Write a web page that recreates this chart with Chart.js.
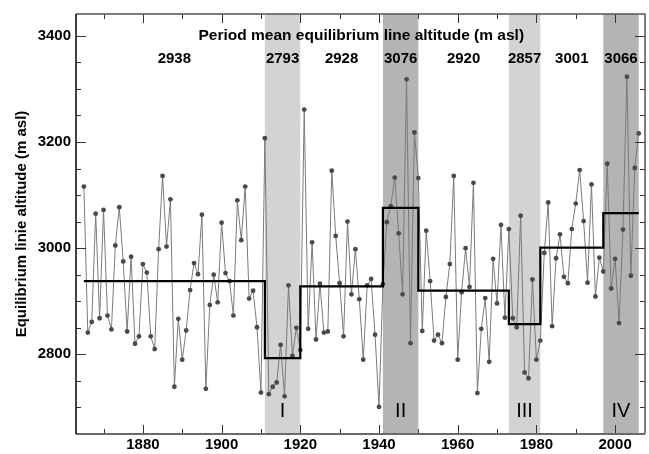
<!DOCTYPE html>
<html>
<head>
<meta charset="utf-8">
<script src="https://cdn.jsdelivr.net/npm/chart.js@4.4.1/dist/chart.umd.min.js"></script>
<style>
  html, body { margin: 0; padding: 0; background: #fff; }
  #wrap { width: 649px; height: 454px; }
</style>
</head>
<body>
<div id="wrap"><canvas id="ela-chart" width="649" height="454"></canvas></div>
<script>
// Yearly equilibrium line altitude (m asl), first value is 1865
const firstYear = 1865;
const elaValues = [
  3116, 2841, 2861, 3065, 2868, 3072, 2873, 2847, 3005, 3077,
  2975, 2843, 2984, 2820, 2834, 2970, 2954, 2834, 2810, 2998,
  3136, 3003, 3092, 2739, 2867, 2790, 2845, 2921, 2972, 2951,
  3063, 2735, 2893, 2950, 2898, 3048, 2953, 2938, 2873, 3090,
  3015, 3116, 2905, 2920, 2851, 2728, 3207,
  2725, 2739, 2747, 2818, 2721, 2930, 2797, 2850, 2808,
  3261, 2848, 3011, 2828, 2933, 2841, 2843, 3146, 3023, 2934,
  2834, 3050, 2913, 2998, 2904, 2790, 2930, 2942, 2837, 2701, 2932,
  3049, 3079, 3133, 3028, 2913, 3318, 2821, 3218, 3132,
  2844, 3033, 2938, 2826, 2837, 2821, 2908, 2970, 3136, 2790,
  2917, 3000, 2927, 3123, 2727, 2848, 2906, 2786, 2980, 2896,
  3044, 2869, 3036,
  2868, 2851, 3061, 2766, 2755, 2941, 2790, 2826,
  2991, 3086, 2853, 2981, 3026, 2946, 2934, 3036, 3084, 3147,
  3051, 2935, 3120, 2909, 2982, 2956,
  3159, 2924, 2980, 2859, 3035, 3323, 2948, 3151, 3216
];

// Period boundaries and period means
const periodBounds = [1865, 1911, 1920, 1941, 1950, 1973, 1981, 1997, 2006];
const periodMeans = [2938, 2793, 2928, 3076, 2920, 2857, 3001, 3066];

// Shaded periods
const bandStart = [1911, 1941, 1973, 1997];
const bandEnd = [1920, 1950, 1981, 2006];
const bandColor = ['#d3d3d3', '#b4b4b4', '#d3d3d3', '#b4b4b4'];
const bandLabel = ['I', 'II', 'III', 'IV'];

// Axis ticks
const xTicks = [1880, 1900, 1920, 1940, 1960, 1980, 2000];
const yTicks = [2800, 3000, 3200, 3400];

const FONT = "'Liberation Sans', Arial, Helvetica, sans-serif";

const yearlyPoints = elaValues.map((v, i) => ({ x: firstYear + i, y: v }));

const stepPoints = [];
for (let i = 0; i < periodMeans.length; i++) {
  stepPoints.push({ x: periodBounds[i], y: periodMeans[i] });
  stepPoints.push({ x: periodBounds[i + 1], y: periodMeans[i] });
}

// bands behind the data
const bandsPlugin = {
  id: 'bands',
  beforeDatasetsDraw(chart) {
    const { ctx, chartArea, scales } = chart;
    ctx.save();
    for (let i = 0; i < bandStart.length; i++) {
      const x1 = scales.x.getPixelForValue(bandStart[i]);
      const x2 = scales.x.getPixelForValue(bandEnd[i]);
      ctx.fillStyle = bandColor[i];
      ctx.fillRect(x1, chartArea.top, x2 - x1, chartArea.bottom - chartArea.top);
    }
    ctx.restore();
  }
};

// frame, inward ticks and text labels
const framePlugin = {
  id: 'frame',
  afterDraw(chart) {
    const { ctx, chartArea, scales } = chart;
    const { left, right, top, bottom } = chartArea;
    ctx.save();

    // inward ticks
    ctx.strokeStyle = '#333';
    ctx.lineWidth = 1;
    for (let yr = 1870; yr <= 2000; yr += 10) {
      const x = Math.round(scales.x.getPixelForValue(yr)) + 0.5;
      const len = yr % 20 === 0 ? 9 : 5;
      ctx.beginPath();
      ctx.moveTo(x, bottom); ctx.lineTo(x, bottom - len);
      ctx.moveTo(x, top); ctx.lineTo(x, top + len);
      ctx.stroke();
    }
    for (let v = 2700; v <= 3400; v += 50) {
      const y = Math.round(scales.y.getPixelForValue(v)) + 0.5;
      const len = v % 200 === 0 ? 10 : 5;
      ctx.beginPath();
      ctx.moveTo(left, y); ctx.lineTo(left + len, y);
      ctx.moveTo(right, y); ctx.lineTo(right - len, y);
      ctx.stroke();
    }

    // frame
    ctx.lineWidth = 1.5;
    ctx.strokeStyle = '#555';
    ctx.beginPath();
    ctx.moveTo(left, top); ctx.lineTo(right, top); ctx.lineTo(right, bottom);
    ctx.stroke();
    ctx.lineWidth = 2;
    ctx.strokeStyle = '#6a6a6a';
    ctx.beginPath();
    ctx.moveTo(left, bottom); ctx.lineTo(right, bottom);
    ctx.stroke();
    ctx.lineWidth = 1.5;
    ctx.strokeStyle = '#000';
    ctx.beginPath();
    ctx.moveTo(left, top); ctx.lineTo(left, bottom);
    ctx.stroke();

    // period mean text
    ctx.fillStyle = '#000';
    ctx.textAlign = 'center';
    ctx.textBaseline = 'middle';
    ctx.font = 'bold 15.5px ' + FONT;
    ctx.fillText('Period mean equilibrium line altitude (m asl)', scales.x.getPixelForValue(1935.5), top + 22);
    ctx.font = 'bold 15px ' + FONT;
    for (let i = 0; i < periodMeans.length; i++) {
      const mid = (periodBounds[i] + periodBounds[i + 1]) / 2;
      ctx.fillText(String(periodMeans[i]), scales.x.getPixelForValue(mid), top + 45);
    }

    // roman numerals
    ctx.font = '20px ' + FONT;
    for (let i = 0; i < bandLabel.length; i++) {
      const mid = (bandStart[i] + bandEnd[i]) / 2;
      ctx.fillText(bandLabel[i], scales.x.getPixelForValue(mid), bottom - 23);
    }
    ctx.restore();
  }
};

const ctx = document.getElementById('ela-chart').getContext('2d');
const elaChart = new Chart(ctx, {
  type: 'line',
  data: {
    datasets: [
      {
        label: 'Period mean',
        data: stepPoints,
        borderColor: '#000',
        borderWidth: 2.2,
        pointRadius: 0,
        fill: false
      },
      {
        label: 'ELA',
        data: yearlyPoints,
        borderColor: '#7a7a7a',
        borderWidth: 1,
        pointRadius: 2.4,
        pointBackgroundColor: '#4a4a4a',
        pointBorderWidth: 0,
        fill: false
      }
    ]
  },
  options: {
    responsive: false,
    animation: false,
    layout: { padding: { top: 12, right: 4, left: 0, bottom: 0 } },
    plugins: { legend: { display: false }, tooltip: { enabled: false } },
    scales: {
      x: {
        type: 'linear',
        min: 1863,
        max: 2007.6,
        grid: { display: false, drawTicks: false },
        border: { display: false },
        afterBuildTicks: (scale) => { scale.ticks = xTicks.map(v => ({ value: v })); },
        afterFit: (scale) => { scale.height = 20; },
        ticks: {
          color: '#000',
          padding: 2,
          maxRotation: 0,
          font: { family: FONT, size: 15, weight: 'bold' },
          callback: (v) => String(v)
        }
      },
      y: {
        min: 2650,
        max: 3441,
        grid: { display: false, drawTicks: false },
        border: { display: false },
        afterBuildTicks: (scale) => { scale.ticks = yTicks.map(v => ({ value: v })); },
        afterFit: (scale) => { scale.width = 76; },
        ticks: {
          color: '#000',
          padding: 5,
          font: { family: FONT, size: 15, weight: 'bold' },
          callback: (v) => String(v)
        },
        title: {
          display: true,
          text: 'Equilibrium linie altitude (m asl)',
          color: '#000',
          font: { family: FONT, size: 15, weight: 'bold' },
          padding: { top: 13, bottom: 0 }
        }
      }
    }
  },
  plugins: [bandsPlugin, framePlugin]
});
</script>
</body>
</html>
